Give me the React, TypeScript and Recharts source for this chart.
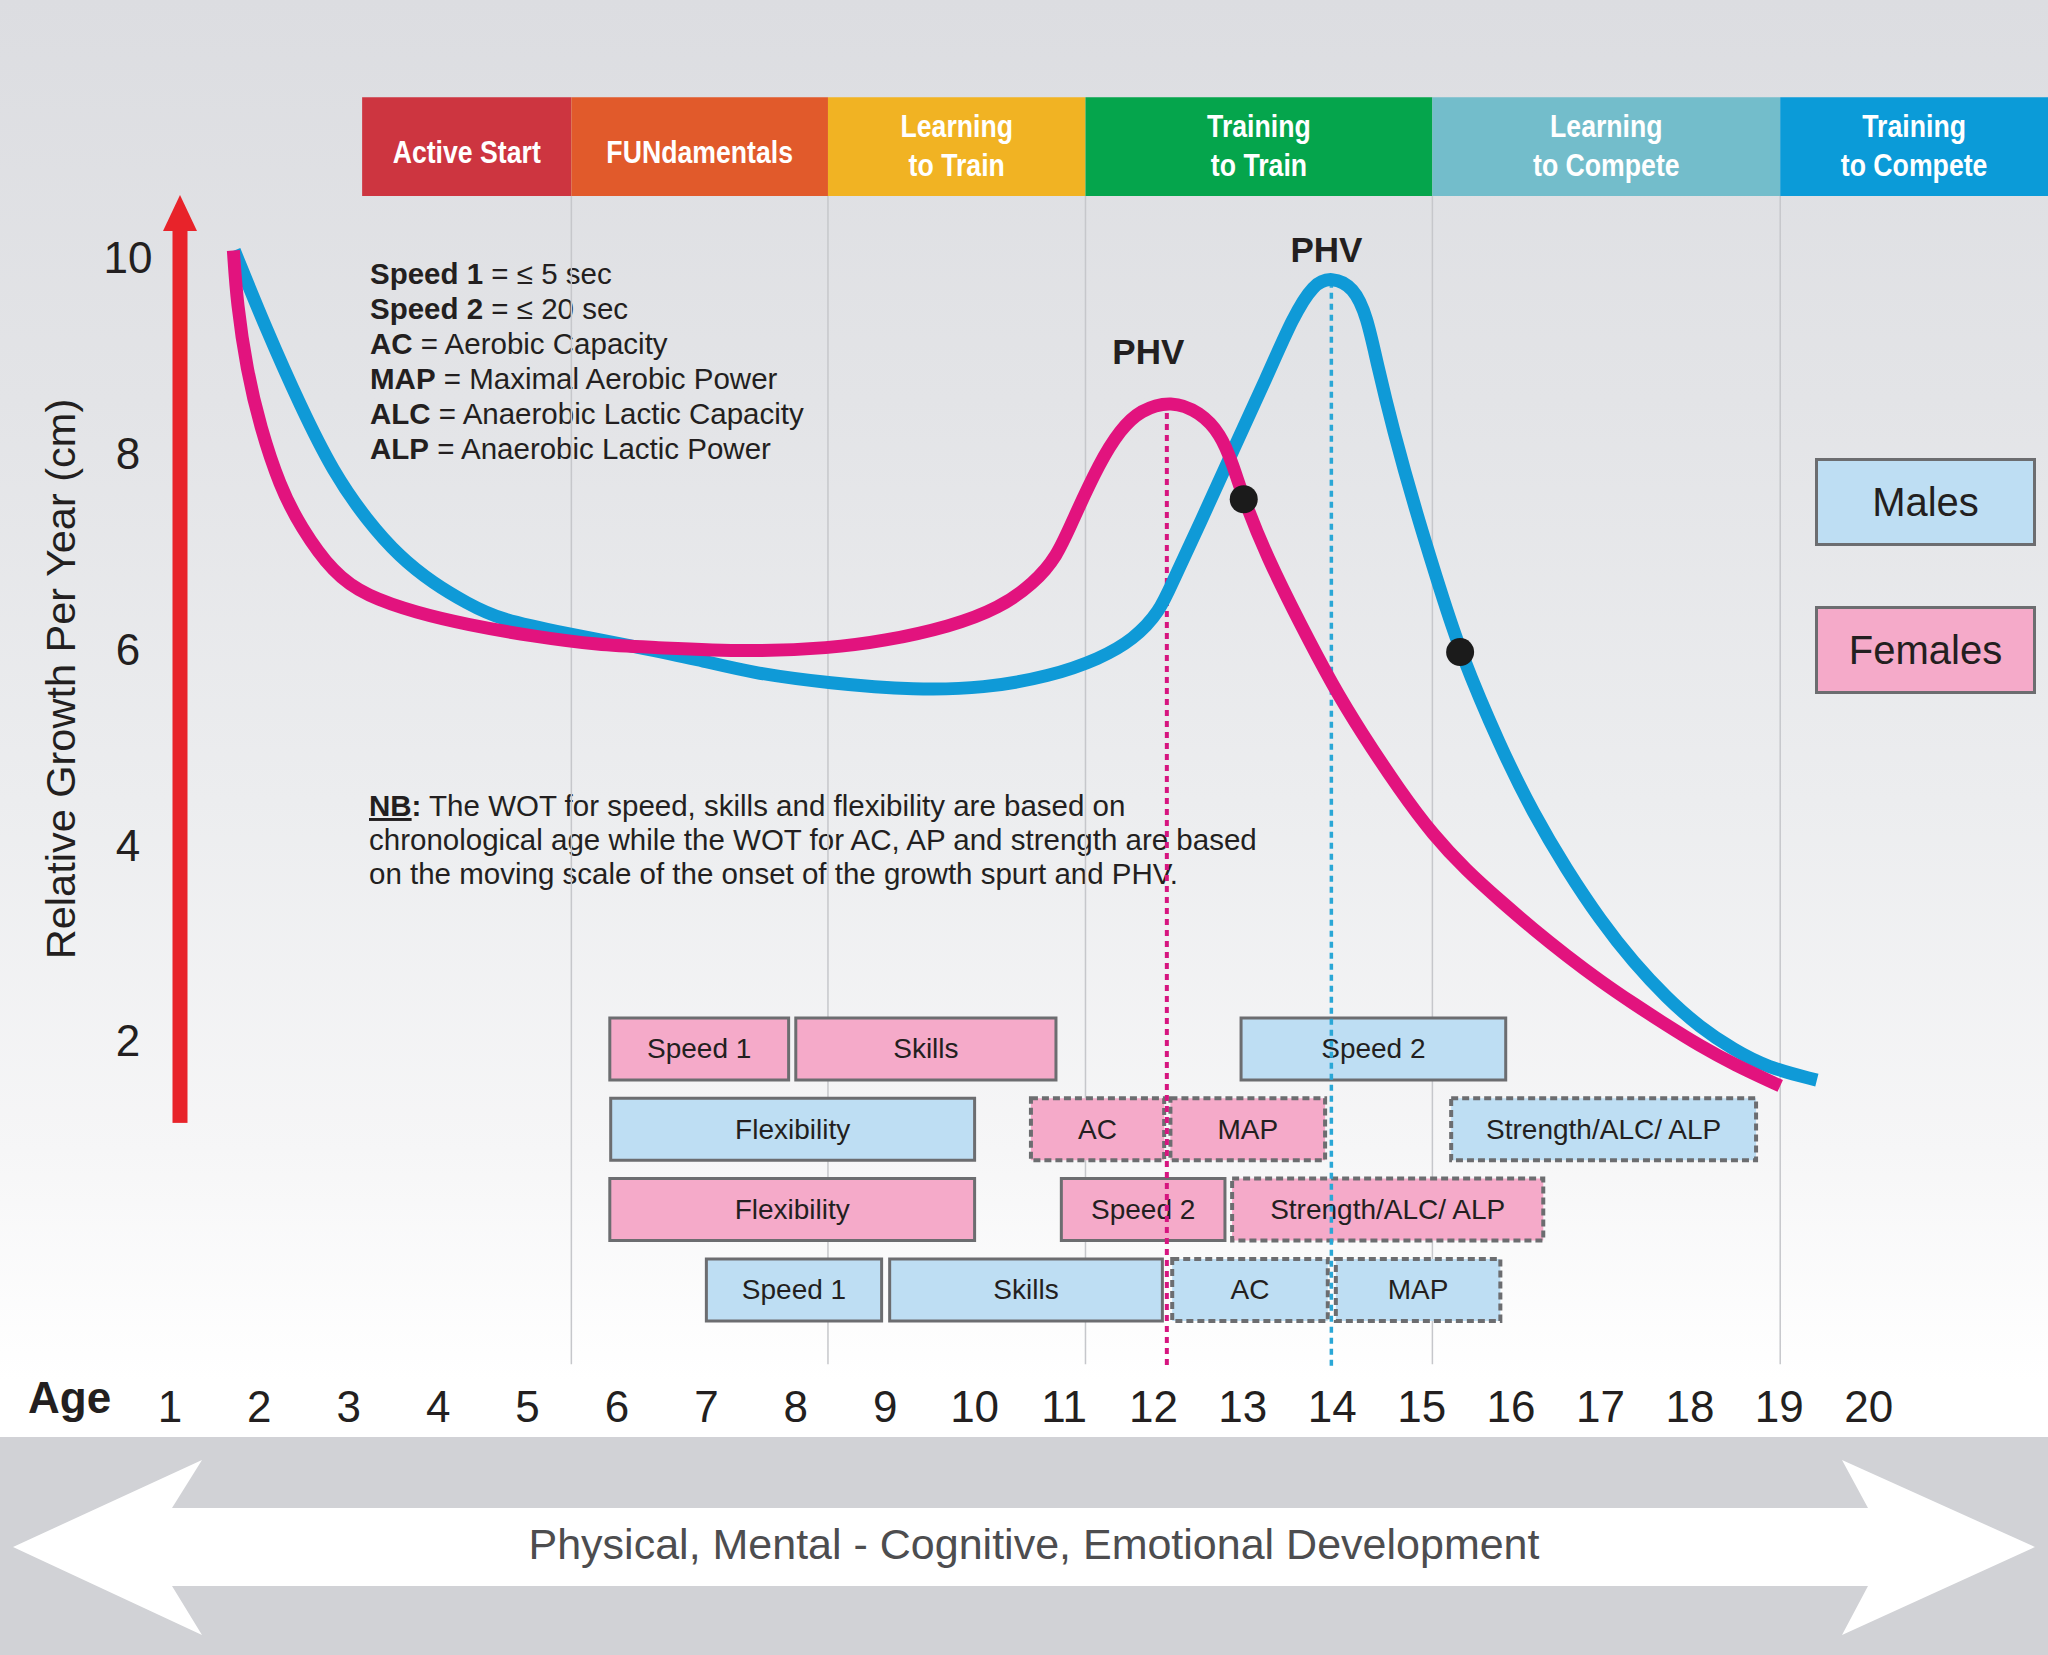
import React from 'react';
import {
  ComposedChart,
  Line,
  XAxis,
  YAxis,
  ReferenceArea,
  ReferenceLine,
  ReferenceDot,
  Legend,
  Customized,
} from 'recharts';

// ---------- fonts & colours ----------
const FONT = '"Liberation Sans", Arial, Helvetica, sans-serif';
const INK = '#231f20';
const MALE_COLOR = '#0f9ad7';
const FEMALE_COLOR = '#e2137e';
const MALE_FILL = '#bedef3';
const FEMALE_FILL = '#f5aac9';
const BOX_BORDER = '#6c6d70';
const ARROW_RED = '#e8232a';
const STAGE_COLORS = ['#cd3540', '#e15a2b', '#f1b323', '#05a54c', '#73bdcb', '#0b9bd8'];

// ---------- axes ----------
const AGE_TICKS = [1, 2, 3, 4, 5, 6, 7, 8, 9, 10, 11, 12, 13, 14, 15, 16, 17, 18, 19, 20];
const GROWTH_TICKS = [2, 4, 6, 8, 10];
const X_MIN = 1.113;
const X_MAX = 22.005;
const Y_MIN = -1.462;
const Y_MAX = 12.627;

// ---------- relative growth per year (cm) ----------
const MALE_GROWTH = [
  { age: 1.72, growth: 10.07 }, { age: 2.08, growth: 9.26 }, { age: 2.46, growth: 8.48 },
  { age: 2.83, growth: 7.8 }, { age: 3.2, growth: 7.32 }, { age: 3.57, growth: 6.94 },
  { age: 3.95, growth: 6.67 }, { age: 4.32, growth: 6.47 }, { age: 4.69, growth: 6.3 },
  { age: 5.44, growth: 6.16 }, { age: 6.18, growth: 6.03 }, { age: 6.93, growth: 5.89 },
  { age: 7.49, growth: 5.76 }, { age: 8.38, growth: 5.65 }, { age: 9.35, growth: 5.58 },
  { age: 10.1, growth: 5.6 }, { age: 10.84, growth: 5.72 }, { age: 11.4, growth: 5.9 },
  { age: 11.78, growth: 6.1 }, { age: 12.07, growth: 6.38 }, { age: 12.22, growth: 6.7 },
  { age: 12.52, growth: 7.28 }, { age: 12.89, growth: 8.03 }, { age: 13.27, growth: 8.78 },
  { age: 13.56, growth: 9.39 }, { age: 13.79, growth: 9.73 }, { age: 13.99, growth: 9.8 },
  { age: 14.24, growth: 9.7 }, { age: 14.39, growth: 9.39 }, { age: 14.5, growth: 8.92 },
  { age: 14.68, growth: 8.24 }, { age: 14.94, growth: 7.39 }, { age: 15.21, growth: 6.6 },
  { age: 15.43, growth: 5.97 }, { age: 15.88, growth: 5.0 }, { age: 16.25, growth: 4.32 },
  { age: 16.62, growth: 3.75 }, { age: 17.0, growth: 3.23 }, { age: 17.37, growth: 2.8 },
  { age: 17.74, growth: 2.44 }, { age: 18.11, growth: 2.14 }, { age: 18.49, growth: 1.91 },
  { age: 18.86, growth: 1.73 }, { age: 19.42, growth: 1.6 },
];

const FEMALE_GROWTH = [
  { age: 1.71, growth: 10.07 }, { age: 1.75, growth: 9.53 }, { age: 1.86, growth: 8.85 },
  { age: 2.01, growth: 8.27 }, { age: 2.23, growth: 7.66 }, { age: 2.46, growth: 7.25 },
  { age: 2.83, growth: 6.77 }, { age: 3.2, growth: 6.54 }, { age: 3.76, growth: 6.37 },
  { age: 4.32, growth: 6.25 }, { age: 5.06, growth: 6.13 }, { age: 5.81, growth: 6.04 },
  { age: 6.37, growth: 6.02 }, { age: 7.49, growth: 5.97 }, { age: 8.38, growth: 6.01 },
  { age: 8.98, growth: 6.08 }, { age: 9.73, growth: 6.23 }, { age: 10.28, growth: 6.42 },
  { age: 10.66, growth: 6.67 }, { age: 10.92, growth: 6.94 }, { age: 11.1, growth: 7.32 },
  { age: 11.4, growth: 7.91 }, { age: 11.63, growth: 8.24 }, { age: 11.85, growth: 8.44 },
  { age: 12.2, growth: 8.54 }, { age: 12.52, growth: 8.42 }, { age: 12.75, growth: 8.2 },
  { age: 12.89, growth: 7.88 }, { age: 13.01, growth: 7.53 }, { age: 13.27, growth: 6.94 },
  { age: 13.64, growth: 6.26 }, { age: 14.01, growth: 5.62 }, { age: 14.31, growth: 5.17 },
  { age: 14.76, growth: 4.55 }, { age: 15.13, growth: 4.1 }, { age: 15.5, growth: 3.74 },
  { age: 15.88, growth: 3.43 }, { age: 16.25, growth: 3.14 }, { age: 16.62, growth: 2.87 },
  { age: 17.0, growth: 2.61 }, { age: 17.37, growth: 2.38 }, { age: 17.74, growth: 2.16 },
  { age: 18.11, growth: 1.95 }, { age: 18.49, growth: 1.76 }, { age: 19.01, growth: 1.54 },
];

// onset markers on each curve
const CURVE_MARKERS = [
  { age: 13.01, growth: 7.53 },
  { age: 15.43, growth: 5.97 },
];

// peak height velocity
const FEMALE_PHV = { age: 12.2, growth: 8.54, lineAge: 12.15, lineTop: 8.41 };
const MALE_PHV = { age: 13.99, growth: 9.8, lineAge: 13.99, lineTop: 9.75 };

// ---------- LTAD stages ----------
const STAGE_LABELS = [
  ['Active Start'],
  ['FUNdamentals'],
  ['Learning', 'to Train'],
  ['Training', 'to Train'],
  ['Learning', 'to Compete'],
  ['Training', 'to Compete'],
];
const STAGE_STARTS = [3.15, 5.49, 8.36, 11.24, 15.12, 19.01];

// ---------- windows of trainability ----------
const FEMALE_WINDOWS = [
  { row: 0, label: 'Speed 1', from: 5.92, to: 7.92, moving: false },
  { row: 0, label: 'Skills', from: 8.0, to: 10.91, moving: false },
  { row: 1, label: 'AC', from: 10.63, to: 12.12, moving: true },
  { row: 1, label: 'MAP', from: 12.19, to: 13.92, moving: true },
  { row: 2, label: 'Flexibility', from: 5.92, to: 10.0, moving: false },
  { row: 2, label: 'Speed 2', from: 10.97, to: 12.8, moving: false },
  { row: 2, label: 'Strength/ALC/ ALP', from: 12.88, to: 16.36, moving: true },
];
const MALE_WINDOWS = [
  { row: 0, label: 'Speed 2', from: 12.98, to: 15.94, moving: false },
  { row: 1, label: 'Flexibility', from: 5.93, to: 10.0, moving: false },
  { row: 1, label: 'Strength/ALC/ ALP', from: 15.33, to: 18.74, moving: true },
  { row: 3, label: 'Speed 1', from: 7.0, to: 8.96, moving: false },
  { row: 3, label: 'Skills', from: 9.05, to: 12.1, moving: false },
  { row: 3, label: 'AC', from: 12.21, to: 13.95, moving: true },
  { row: 3, label: 'MAP', from: 14.04, to: 15.88, moving: true },
];

const LEGEND_ORDER = ['Males', 'Females'];

// ---------- layout in growth units ----------
const STAGE_BAND = [10.627, 11.634];
const GRID_BOTTOM = -1.3;
const ROW_TOP = 2.234;
const ROW_STEP = 0.82;
const ROW_HEIGHT = 0.633;
const ARROW_SPAN = [1.163, 10.636];

const rowTop = (row: number) => ROW_TOP - row * ROW_STEP;
const rowBottom = (row: number) => ROW_TOP - row * ROW_STEP - ROW_HEIGHT;

// ---------- custom renderers ----------
const AgeTick = (p: any) => (
  <text
    x={p.x}
    y={p.y + 26}
    textAnchor="middle"
    dominantBaseline="central"
    fontFamily={FONT}
    fontSize={44}
    fill={INK}
  >
    {p.payload.value}
  </text>
);

const GrowthTick = (p: any) => (
  <text
    x={p.x - 52}
    y={p.y}
    textAnchor="middle"
    dominantBaseline="central"
    fontFamily={FONT}
    fontSize={44}
    fill={INK}
  >
    {p.payload.value}
  </text>
);

// condensed white stage titles
const StageText = ({ viewBox, lines }: any) => {
  if (!viewBox) return null;
  const cx = viewBox.x + viewBox.width / 2;
  const cy = viewBox.y + viewBox.height / 2;
  const baselines = lines.length === 1 ? [cy + 16] : [cy - 10, cy + 29.5];
  return (
    <text
      transform={`translate(${cx} 0) scale(0.86 1)`}
      textAnchor="middle"
      fill="#ffffff"
      fontFamily={FONT}
      fontSize={31}
      fontWeight={700}
    >
      {lines.map((l: string, i: number) => (
        <tspan key={i} x={0} y={baselines[i]}>
          {l}
        </tspan>
      ))}
    </text>
  );
};

const BoxText = ({ viewBox, text }: any) => {
  if (!viewBox) return null;
  return (
    <text
      x={viewBox.x + viewBox.width / 2}
      y={viewBox.y + viewBox.height / 2}
      textAnchor="middle"
      dominantBaseline="central"
      fontFamily={FONT}
      fontSize={28}
      fill={INK}
    >
      {text}
    </text>
  );
};

const PeakText = ({ viewBox, dx, rise }: any) => {
  if (!viewBox) return null;
  return (
    <text
      x={viewBox.x + viewBox.width / 2 + dx}
      y={viewBox.y + viewBox.height / 2 - rise}
      textAnchor="middle"
      fontFamily={FONT}
      fontSize={35}
      fontWeight={700}
      fill={INK}
    >
      PHV
    </text>
  );
};

const GrowthArrow = (p: any) => {
  const x = p.x1;
  const top = Math.min(p.y1, p.y2);
  const bottom = Math.max(p.y1, p.y2);
  return (
    <g>
      <rect x={x - 7.5} y={top + 33} width={15} height={bottom - top - 33} fill={ARROW_RED} />
      <polygon points={`${x},${top} ${x - 17},${top + 36} ${x + 17},${top + 36}`} fill={ARROW_RED} />
    </g>
  );
};

const LegendBoxes = ({ payload }: any) => {
  const items = [...(payload || [])].sort(
    (a: any, b: any) => LEGEND_ORDER.indexOf(a.value) - LEGEND_ORDER.indexOf(b.value),
  );
  return (
    <div style={{ display: 'flex', flexDirection: 'column', gap: 60 }}>
      {items.map((item: any) => (
        <div
          key={item.value}
          style={{
            width: 221,
            height: 88,
            boxSizing: 'border-box',
            border: `3px solid ${BOX_BORDER}`,
            background: item.value === 'Males' ? MALE_FILL : FEMALE_FILL,
            display: 'flex',
            alignItems: 'center',
            justifyContent: 'center',
            fontFamily: FONT,
            fontSize: 40,
            color: INK,
          }}
        >
          {item.value}
        </div>
      ))}
    </div>
  );
};

const Annotations = () => (
  <g fontFamily={FONT} fill={INK}>
    <text x={28} y={1413} fontSize={44} fontWeight={700}>
      Age
    </text>
    <text transform="translate(75,679) rotate(-90)" textAnchor="middle" fontSize={41.5}>
      Relative Growth Per Year (cm)
    </text>
    <g fontSize={29.5}>
      <text x={370} y={284}>
        <tspan fontWeight={700}>Speed 1</tspan> = ≤ 5 sec
      </text>
      <text x={370} y={319}>
        <tspan fontWeight={700}>Speed 2</tspan> = ≤ 20 sec
      </text>
      <text x={370} y={354}>
        <tspan fontWeight={700}>AC</tspan> = Aerobic Capacity
      </text>
      <text x={370} y={389}>
        <tspan fontWeight={700}>MAP</tspan> = Maximal Aerobic Power
      </text>
      <text x={370} y={424}>
        <tspan fontWeight={700}>ALC</tspan> = Anaerobic Lactic Capacity
      </text>
      <text x={370} y={459}>
        <tspan fontWeight={700}>ALP</tspan> = Anaerobic Lactic Power
      </text>
      <text x={369} y={816}>
        <tspan fontWeight={700} style={{ textDecoration: 'underline' }}>NB</tspan>
        <tspan fontWeight={700}>:</tspan> The WOT for speed, skills and flexibility are based on
      </text>
      <text x={369} y={850}>
        chronological age while the WOT for AC, AP and strength are based
      </text>
      <text x={369} y={884}>
        on the moving scale of the onset of the growth spurt and PHV.
      </text>
    </g>
  </g>
);

const DevelopmentBand = () => (
  <g>
    <rect x={0} y={1437} width={2048} height={218} fill="#d1d2d6" />
    <polygon
      points="13,1547 202,1460 172,1508 1868,1508 1842,1460 2035,1547 1842,1635 1868,1586 172,1586 202,1635"
      fill="#ffffff"
    />
    <text x={1034} y={1559} textAnchor="middle" fontFamily={FONT} fontSize={43} fill="#4d4d4f">
      Physical, Mental - Cognitive, Emotional Development
    </text>
  </g>
);

const windowArea = (w: any, fill: string, key: string) => (
  <ReferenceArea
    key={key}
    x1={w.from}
    x2={w.to}
    y1={rowBottom(w.row)}
    y2={rowTop(w.row)}
    fill={fill}
    fillOpacity={1}
    stroke={BOX_BORDER}
    strokeWidth={w.moving ? 4 : 3}
    strokeDasharray={w.moving ? '7 4' : undefined}
    zIndex={100}
    label={{ content: (lp: any) => <BoxText viewBox={lp.viewBox} text={w.label} /> }}
  />
);

export default function App() {
  return (
    <div
      style={{
        position: 'absolute',
        left: 0,
        top: 0,
        width: 2048,
        height: 1655,
        overflow: 'hidden',
        background:
          'linear-gradient(180deg, #dcdde1 0px, #e3e4e7 400px, #ecedef 800px, #f6f6f7 1150px, #ffffff 1380px)',
      }}
    >
      <ComposedChart width={2048} height={1655} margin={{ top: 0, right: 0, bottom: 0, left: 0 }}>
        <Customized component={<DevelopmentBand />} />
        <XAxis
          type="number"
          dataKey="age"
          domain={[X_MIN, X_MAX]}
          allowDataOverflow
          ticks={AGE_TICKS}
          interval={0}
          height={275}
          axisLine={false}
          tickLine={false}
          tickSize={0}
          tickMargin={0}
          tick={(p: any) => <AgeTick {...p} />}
        />
        <YAxis
          type="number"
          domain={[Y_MIN, Y_MAX]}
          allowDataOverflow
          ticks={GROWTH_TICKS}
          width={180}
          axisLine={false}
          tickLine={false}
          tickSize={0}
          tickMargin={0}
          tick={(p: any) => <GrowthTick {...p} />}
        />

        {STAGE_STARTS.slice(1).map((a) => (
          <ReferenceLine
            key={`grid-${a}`}
            segment={[
              { x: a, y: STAGE_BAND[0] },
              { x: a, y: GRID_BOTTOM },
            ]}
            stroke="#c6c7cb"
            strokeWidth={1.5}
            zIndex={50}
          />
        ))}

        {STAGE_LABELS.map((lines, i) => (
          <ReferenceArea
            key={`stage-${i}`}
            x1={STAGE_STARTS[i]}
            x2={i + 1 < STAGE_STARTS.length ? STAGE_STARTS[i + 1] : X_MAX}
            y1={STAGE_BAND[0]}
            y2={STAGE_BAND[1]}
            fill={STAGE_COLORS[i]}
            fillOpacity={1}
            stroke="none"
            zIndex={100}
            label={{ content: (lp: any) => <StageText viewBox={lp.viewBox} lines={lines} /> }}
          />
        ))}

        {FEMALE_WINDOWS.map((w, i) => windowArea(w, FEMALE_FILL, `f-${i}`))}
        {MALE_WINDOWS.map((w, i) => windowArea(w, MALE_FILL, `m-${i}`))}

        <ReferenceLine
          segment={[
            { x: X_MIN, y: ARROW_SPAN[0] },
            { x: X_MIN, y: ARROW_SPAN[1] },
          ]}
          ifOverflow="visible"
          shape={(p: any) => <GrowthArrow {...p} />}
          zIndex={150}
        />

        <ReferenceLine
          segment={[
            { x: FEMALE_PHV.lineAge, y: FEMALE_PHV.lineTop },
            { x: FEMALE_PHV.lineAge, y: GRID_BOTTOM - 0.02 },
          ]}
          stroke="#d6157f"
          strokeWidth={4}
          strokeDasharray="6 5"
          zIndex={150}
        />
        <ReferenceLine
          segment={[
            { x: MALE_PHV.lineAge, y: MALE_PHV.lineTop },
            { x: MALE_PHV.lineAge, y: GRID_BOTTOM - 0.02 },
          ]}
          stroke="#2aa7d6"
          strokeWidth={3.5}
          strokeDasharray="6 5"
          zIndex={150}
        />

        <Line
          data={MALE_GROWTH}
          dataKey="growth"
          name="Males"
          type="basis"
          stroke={MALE_COLOR}
          strokeWidth={13}
          dot={false}
          activeDot={false}
          legendType="rect"
          isAnimationActive={false}
        />
        <Line
          data={FEMALE_GROWTH}
          dataKey="growth"
          name="Females"
          type="basis"
          stroke={FEMALE_COLOR}
          strokeWidth={13}
          dot={false}
          activeDot={false}
          legendType="rect"
          isAnimationActive={false}
        />

        {CURVE_MARKERS.map((m, i) => (
          <ReferenceDot key={`mk-${i}`} x={m.age} y={m.growth} r={14} fill="#1b1b1b" stroke="none" />
        ))}

        <ReferenceDot
          x={FEMALE_PHV.age}
          y={FEMALE_PHV.growth}
          r={0}
          fill="none"
          stroke="none"
          label={{ content: (lp: any) => <PeakText viewBox={lp.viewBox} dx={-23} rise={36} /> }}
        />
        <ReferenceDot
          x={MALE_PHV.age}
          y={MALE_PHV.growth}
          r={0}
          fill="none"
          stroke="none"
          label={{ content: (lp: any) => <PeakText viewBox={lp.viewBox} dx={-5} rise={15} /> }}
        />

        <Customized component={<Annotations />} />

        <Legend
          content={(lp: any) => <LegendBoxes payload={lp.payload} />}
          layout="horizontal"
          verticalAlign="middle"
          align="center"
          wrapperStyle={{ left: 1815, top: 458, width: 222 }}
        />
      </ComposedChart>
    </div>
  );
}
